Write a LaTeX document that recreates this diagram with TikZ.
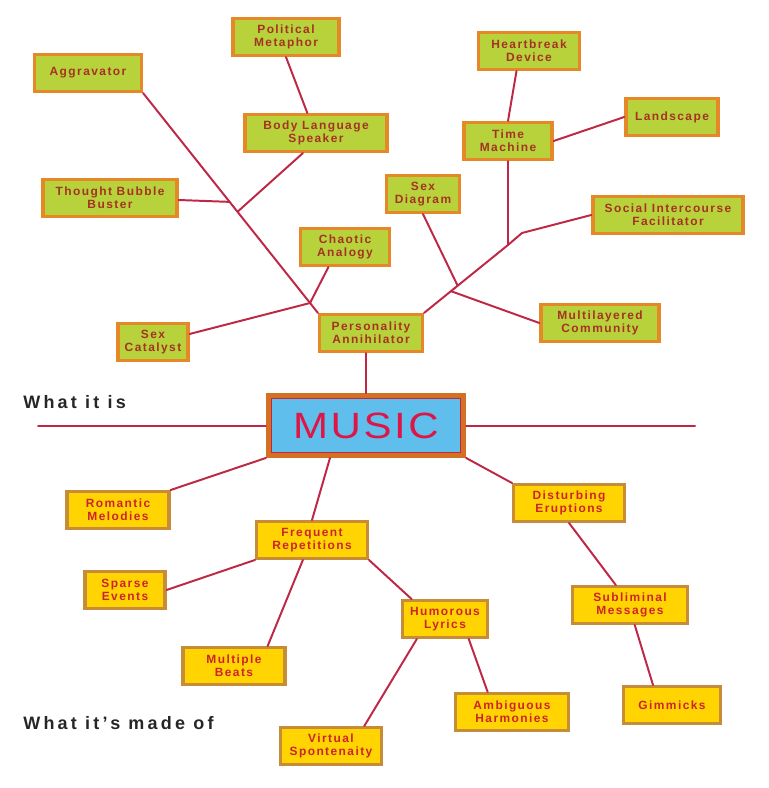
\documentclass[tikz,border=0pt]{standalone}
\usepackage{fontspec}
\setmainfont{Liberation Sans}
\newfontfamily\boxfont[LetterSpace=12]{Liberation Sans}
\newfontfamily\headfont[LetterSpace=18]{Liberation Sans}
\newfontfamily\musicfont[LetterSpace=6]{Liberation Sans}
\usetikzlibrary{calc}
\definecolor{lgreen}{RGB}{184,210,60}
\definecolor{gborder}{RGB}{228,136,40}
\definecolor{gtext}{RGB}{165,50,35}
\definecolor{lyellow}{RGB}{255,212,0}
\definecolor{yborder}{RGB}{198,140,55}
\definecolor{ytext}{RGB}{205,35,45}
\definecolor{wirecol}{RGB}{190,40,70}
\definecolor{mblue}{RGB}{95,190,235}
\definecolor{morange}{RGB}{212,112,35}
\definecolor{mred}{RGB}{222,22,72}
\begin{document}
\begin{tikzpicture}[line cap=round,x=1.0cm,y=1.0cm,
gbox/.style={draw=gborder,fill=lgreen,line width=2.4pt,line join=miter,text=gtext,align=center,minimum height=0.92cm,inner sep=1pt,font=\boxfont\bfseries\fontsize{8.5}{9}\selectfont},
ybox/.style={draw=yborder,fill=lyellow,line width=2.2pt,line join=miter,text=ytext,align=center,minimum height=0.92cm,inner sep=1pt,font=\boxfont\bfseries\fontsize{8.5}{9}\selectfont},
headtext/.style={anchor=west,inner sep=0pt,text=black!85,font=\headfont\bfseries\fontsize{12.8}{14}\selectfont},
wire/.style={draw=wirecol,line width=1.4pt}]
\clip(0.,0.) rectangle (19.2,19.7);
\node[gbox,minimum width=2.65cm] (pol) at (7.15,18.775) {Political\\Metaphor};
\node[gbox,minimum width=2.67cm] (agg) at (2.2,17.875) {Aggravator};
\node[gbox,minimum width=3.55cm] (body) at (7.9,16.375) {Body Language\\Speaker};
\node[gbox,minimum width=3.35cm] (tbb) at (2.75,14.75) {Thought Bubble\\Buster};
\node[gbox,minimum width=2.22cm] (chao) at (8.625,13.525) {Chaotic\\Analogy};
\node[gbox,minimum width=1.75cm] (scat) at (3.825,11.15) {Sex\\Catalyst};
\node[gbox,minimum width=2.57cm] (pers) at (9.275,11.375) {Personality\\Annihilator};
\node[gbox,minimum width=2.52cm] (heart) at (13.225,18.425) {Heartbreak\\Device};
\node[gbox,minimum width=2.3cm] (land) at (16.8,16.775) {Landscape};
\node[gbox,minimum width=2.2cm] (time) at (12.7,16.175) {Time\\Machine};
\node[gbox,minimum width=1.82cm] (sdia) at (10.575,14.85) {Sex\\Diagram};
\node[gbox,minimum width=3.75cm] (soc) at (16.7,14.325) {Social Intercourse\\Facilitator};
\node[gbox,minimum width=2.95cm] (mlc) at (15.0,11.625) {Multilayered\\Community};
\node[draw=morange,fill=mblue,line width=3.5pt,line join=miter,minimum width=4.88cm,minimum height=1.5cm,text=mred,font=\musicfont\fontsize{26}{28}\selectfont] (music) at (9.15,9.0625) {\scalebox{1.15}[1]{MUSIC}};
\draw[wirecol,line width=0.6pt] ($(music.south west)+(0.13,0.13)$) rectangle ($(music.north east)-(0.13,0.13)$);
\node[ybox,minimum width=2.55cm] (rom) at (2.95,6.95) {Romantic\\Melodies};
\node[ybox,minimum width=2.77cm] (freq) at (7.8,6.2) {Frequent\\Repetitions};
\node[ybox,minimum width=2.77cm] (dist) at (14.225,7.125) {Disturbing\\Eruptions};
\node[ybox,minimum width=2.0cm] (spar) at (3.125,4.95) {Sparse\\Events};
\node[ybox,minimum width=2.12cm] (hum) at (11.125,4.225) {Humorous\\Lyrics};
\node[ybox,minimum width=2.87cm] (subl) at (15.75,4.575) {Subliminal\\Messages};
\node[ybox,minimum width=2.55cm] (mult) at (5.85,3.05) {Multiple\\Beats};
\node[ybox,minimum width=2.82cm] (amb) at (12.8,1.9) {Ambiguous\\Harmonies};
\node[ybox,minimum width=2.42cm] (gim) at (16.8,2.075) {Gimmicks};
\node[ybox,minimum width=2.52cm] (virt) at (8.275,1.05) {Virtual\\Spontenaity};
\node[headtext] (isl) at (0.575,9.65) {What it is};
\node[headtext] (madel) at (0.575,1.625) {What it’s made of};
\coordinate (ja) at ($(agg.south east)!0.495!(pers.north west)$);
\coordinate (jb) at ($(agg.south east)!0.54!(pers.north west)$);
\coordinate (jc) at ($(agg.south east)!0.955!(pers.north west)$);
\coordinate (jd) at (12.7,13.575);
\coordinate (je) at (13.05,13.875);
\coordinate (hl) at (0.95,9.05);
\coordinate (hr) at (17.375,9.05);
\draw[wire] (agg.south east) -- (pers.north west);
\draw[wire] ($(tbb.north east)!0.55!(tbb.south east)$) -- (ja);
\draw[wire] ($(body.south west)!0.41!(body.south east)$) -- (jb);
\draw[wire] (pol.south) -- ($(body.north west)!0.44!(body.north east)$);
\draw[wire] ($(chao.south west)!0.32!(chao.south east)$) -- (jc);
\draw[wire] ($(scat.north east)!0.3!(scat.south east)$) -- (jc);
\draw[wire] (music.north) -- (music.north |- pers.south);
\draw[wire] (pers.north east) -- (jd) -- (je) -- (soc.west);
\draw[wire] (time.south) -- (jd);
\draw[wire] (sdia.south) -- ($(pers.north east)!0.4!(jd)$);
\draw[wire] ($(pers.north east)!0.32!(jd)$) -- (mlc.west);
\draw[wire] ($(heart.south west)!0.38!(heart.south east)$) -- (time.north);
\draw[wire] (land.west) -- (time.east);
\draw[wire] (hl) -- (music.west |- hl);
\draw[wire] (music.east |- hr) -- (hr);
\draw[wire] (rom.north east) -- (music.south west);
\draw[wire] ($(music.south west)!0.32!(music.south east)$) -- (freq.north);
\draw[wire] (music.south east) -- (dist.north west);
\draw[wire] (spar.east) -- (freq.south west);
\draw[wire] ($(freq.south west)!0.42!(freq.south east)$) -- ($(mult.north west)!0.82!(mult.north east)$);
\draw[wire] (freq.south east) -- ($(hum.north west)!0.12!(hum.north east)$);
\draw[wire] ($(hum.south west)!0.18!(hum.south east)$) -- ($(virt.north west)!0.82!(virt.north east)$);
\draw[wire] ($(hum.south west)!0.77!(hum.south east)$) -- ($(amb.north west)!0.29!(amb.north east)$);
\draw[wire] (dist.south) -- ($(subl.north west)!0.38!(subl.north east)$);
\draw[wire] ($(subl.south west)!0.54!(subl.south east)$) -- ($(gim.north west)!0.31!(gim.north east)$);
\end{tikzpicture}
\end{document}
